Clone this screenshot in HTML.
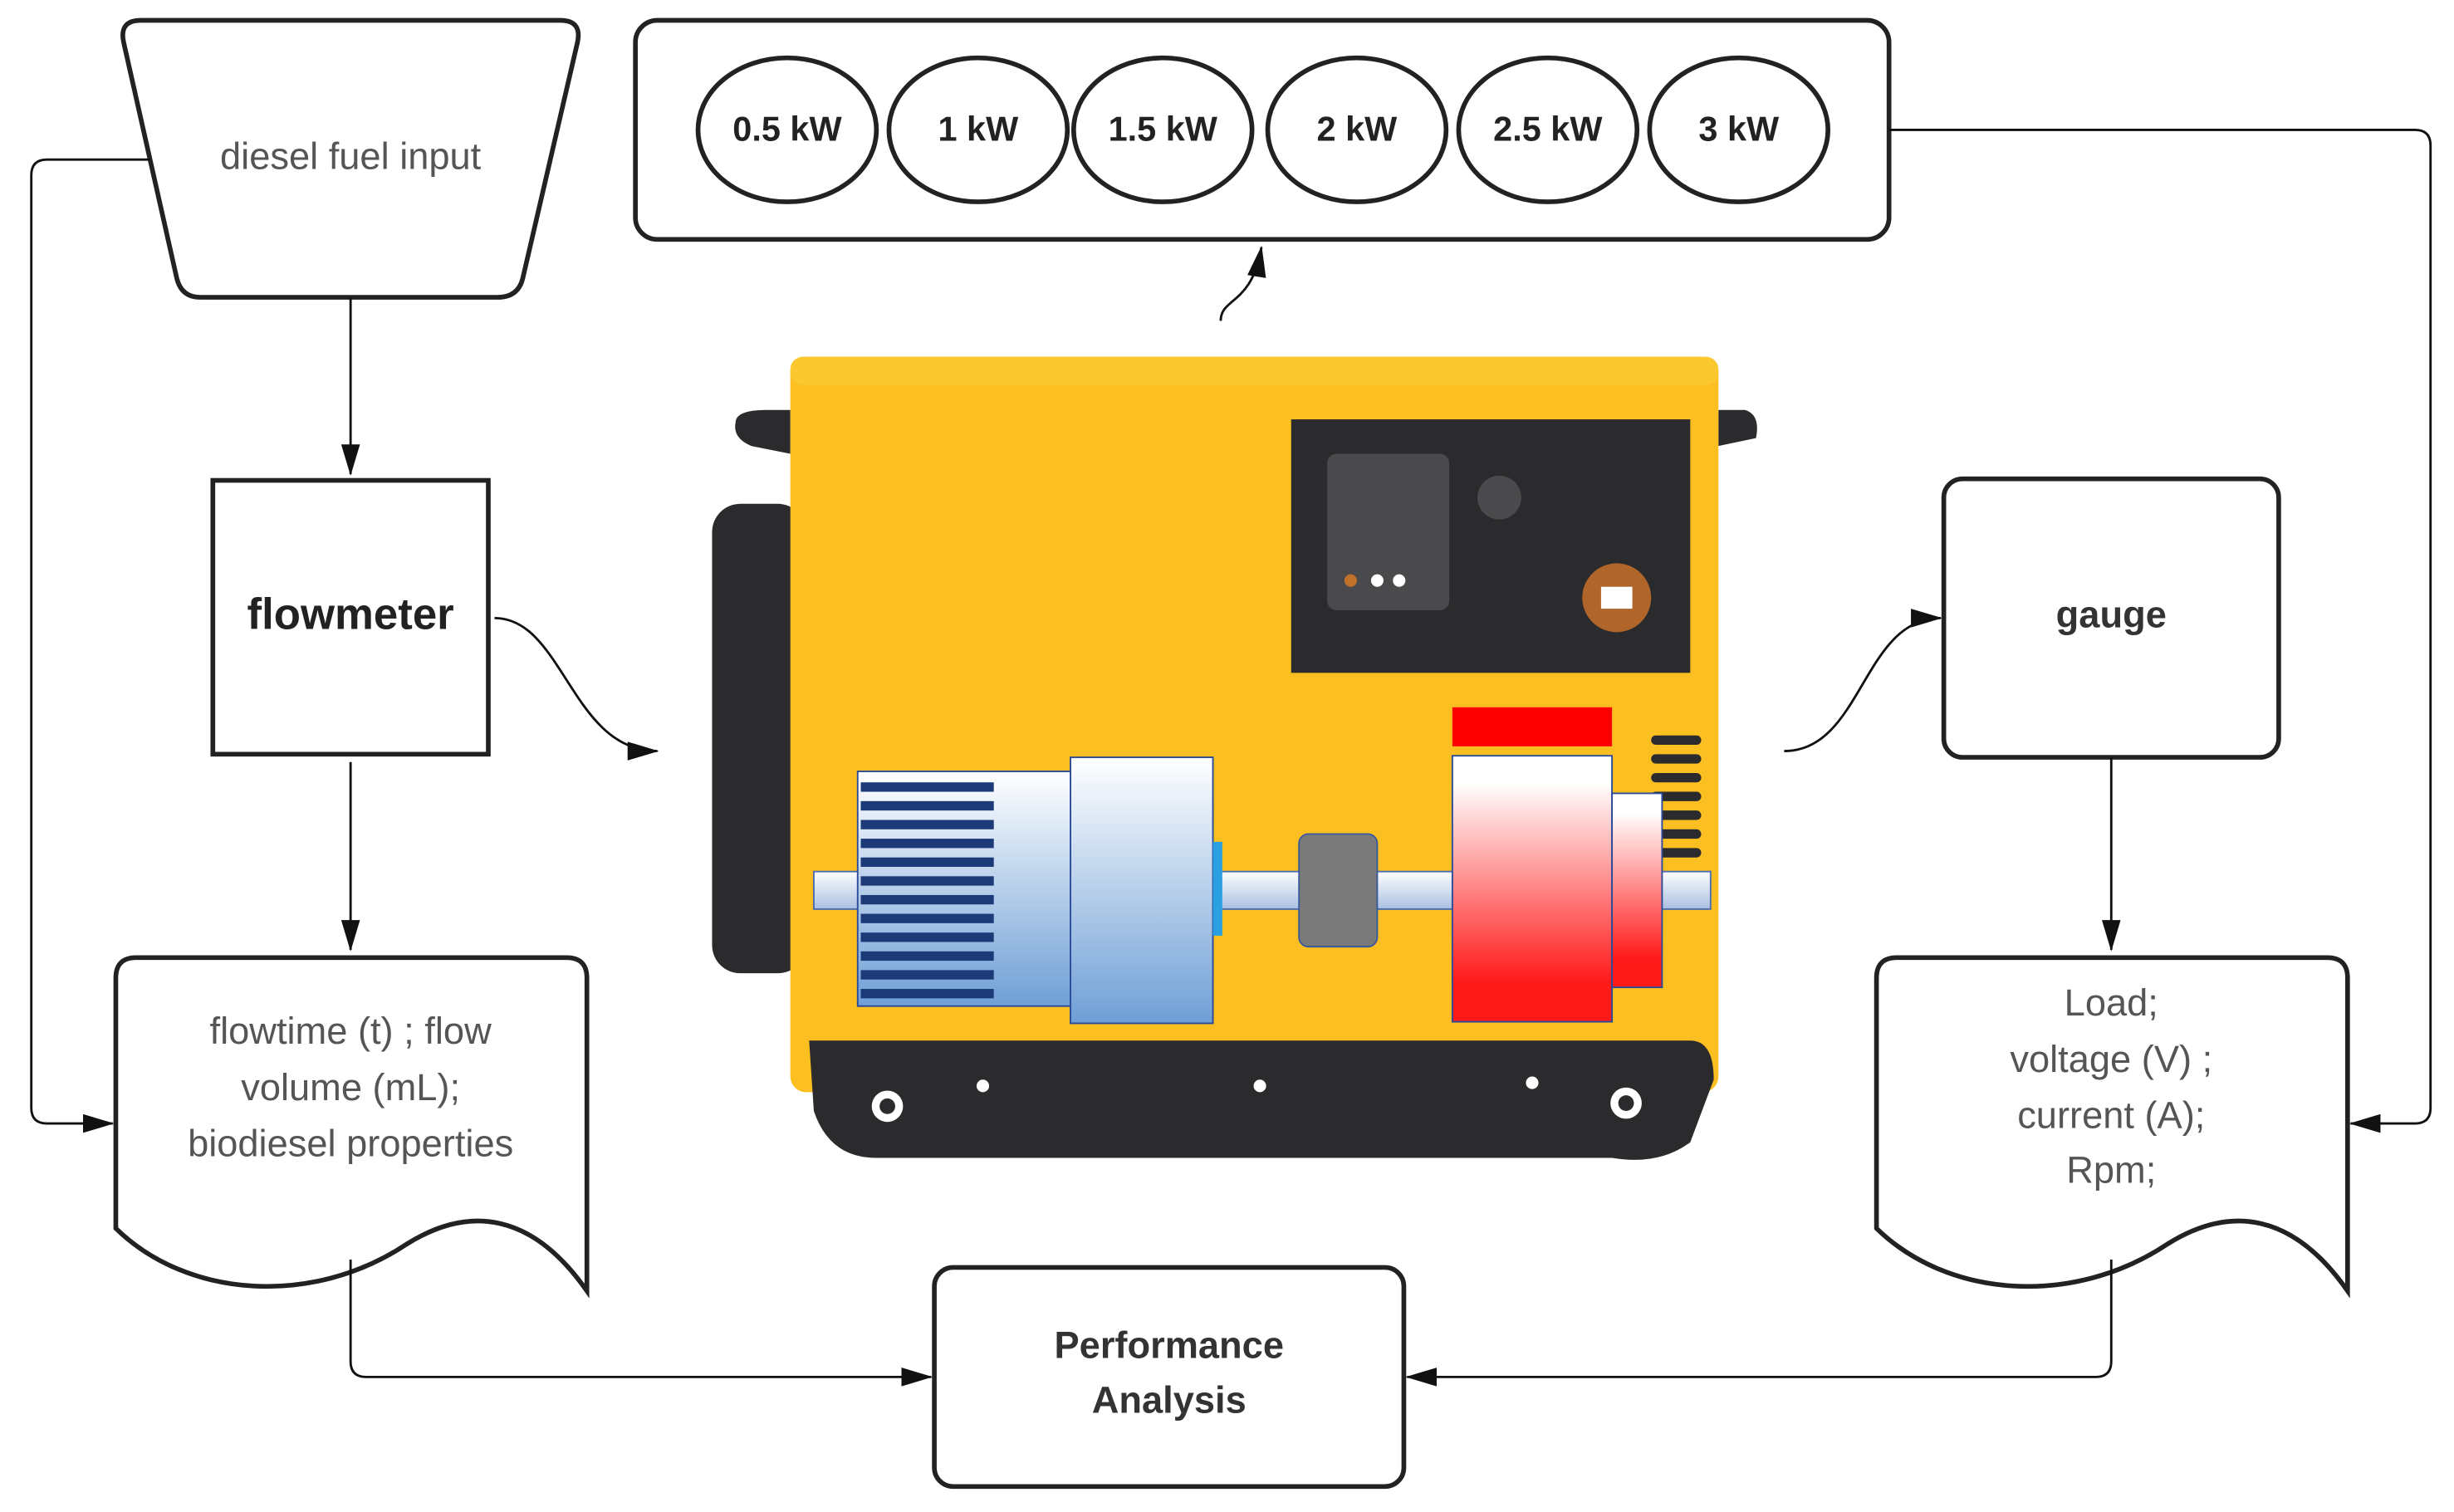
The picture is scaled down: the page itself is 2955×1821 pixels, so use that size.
<!DOCTYPE html>
<html><head><meta charset="utf-8"><style>
html,body{margin:0;padding:0;background:#fff;}
svg{display:block;}
text{font-family:"Liberation Sans",sans-serif;}
</style></head><body>
<svg width="2955" height="1821" viewBox="0 0 1568 966.3" preserveAspectRatio="none" xmlns="http://www.w3.org/2000/svg">
<defs>
<marker id="ah" markerWidth="20" markerHeight="12" refX="19" refY="6" orient="auto" markerUnits="userSpaceOnUse">
<path d="M0,0 L20,6 L0,12 Z" fill="#111"/></marker>
<linearGradient id="blue" x1="0" y1="0" x2="0" y2="1"><stop offset="0" stop-color="#fff"/><stop offset="1" stop-color="#6f9fd6"/></linearGradient>
<linearGradient id="red" x1="0" y1="0" x2="0" y2="1"><stop offset="0.1" stop-color="#fff"/><stop offset="0.85" stop-color="#ff1a1a"/></linearGradient>
<linearGradient id="shaft" x1="0" y1="0" x2="0" y2="1"><stop offset="0" stop-color="#fff"/><stop offset="1" stop-color="#a9bfe0"/></linearGradient>
</defs>
<g fill="none" stroke="#222" stroke-width="3">
<path d="M90,13 L358,13 Q372,13 369,27 L334,178 Q331,190 318,190 L128,190 Q116,190 113,178 L79,27 Q76,13 90,13 Z"/>
<rect x="406" y="13" width="801" height="140" rx="14"/>
<ellipse cx="503" cy="83" rx="57" ry="46"/>
<ellipse cx="625" cy="83" rx="57" ry="46"/>
<ellipse cx="743" cy="83" rx="57" ry="46"/>
<ellipse cx="867" cy="83" rx="57" ry="46"/>
<ellipse cx="989" cy="83" rx="57" ry="46"/>
<ellipse cx="1111" cy="83" rx="57" ry="46"/>
<rect x="136" y="307" width="176" height="175"/>
<rect x="1242" y="306" width="214" height="178" rx="12"/>
<path d="M87,612 L362,612 Q375,612 375,625 L375,825 C340,775 300,770 260,795 C200,835 120,830 74,785 L74,625 Q74,612 87,612 Z"/>
<path d="M1212,612 L1487,612 Q1500,612 1500,625 L1500,825 C1465,775 1425,770 1385,795 C1325,835 1245,830 1199,785 L1199,625 Q1199,612 1212,612 Z"/>
<rect x="597" y="810" width="300" height="140" rx="12"/>
</g>
<g fill="none" stroke="#111" stroke-width="1.5">
<path d="M224,190 L224,303" marker-end="url(#ah)"/>
<path d="M224,487 L224,607" marker-end="url(#ah)"/>
<path d="M96,102 L30,102 Q20,102 20,112 L20,708 Q20,718 30,718 L72,718" marker-end="url(#ah)"/>
<path d="M316,395 C360,395 365,480 420,480" marker-end="url(#ah)"/>
<path d="M780,205 C780,190 800,195 806,158" marker-end="url(#ah)"/>
<path d="M1140,480 C1190,480 1190,395 1240,395" marker-end="url(#ah)"/>
<path d="M1349,484 L1349,607" marker-end="url(#ah)"/>
<path d="M1207,83 L1543,83 Q1553,83 1553,93 L1553,708 Q1553,718 1543,718 L1502,718" marker-end="url(#ah)"/>
<path d="M224,805 L224,870 Q224,880 234,880 L595,880" marker-end="url(#ah)"/>
<path d="M1349,805 L1349,870 Q1349,880 1339,880 L899,880" marker-end="url(#ah)"/>
</g>
<g>
<path d="M470,270 Q470,262 490,262 L505,262 L505,290 L480,285 Q468,280 470,270 Z" fill="#2b2b2d"/>
<path d="M1098,262 L1115,262 Q1125,265 1122,280 L1098,285 Z" fill="#2b2b2d"/>
<rect x="455" y="322" width="60" height="300" rx="18" fill="#2b2b2d"/>
<rect x="505" y="228" width="593" height="470" rx="10" fill="#fbbf22"/>
<rect x="505" y="228" width="593" height="18" rx="8" fill="#fcc830"/>
<path d="M517,665 L1080,665 Q1095,665 1095,690 L1080,730 Q1060,745 1030,740 L560,740 Q530,740 520,710 Z" fill="#2b2b2d"/>
<circle cx="567" cy="707" r="10" fill="#fff"/><circle cx="567" cy="707" r="5" fill="#2b2b2d"/>
<circle cx="1039" cy="705" r="10" fill="#fff"/><circle cx="1039" cy="705" r="5" fill="#2b2b2d"/>
<circle cx="628" cy="694" r="4" fill="#fff"/><circle cx="805" cy="694" r="4" fill="#fff"/><circle cx="979" cy="692" r="4" fill="#fff"/>
<rect x="825" y="268" width="255" height="162" fill="#2b2b2d"/>
<rect x="848" y="290" width="78" height="100" rx="6" fill="#4a4a4c"/>
<circle cx="880" cy="371" r="4" fill="#fff"/><circle cx="894" cy="371" r="4" fill="#fff"/><circle cx="863" cy="371" r="4" fill="#c0722a"/>
<circle cx="1033" cy="382" r="22" fill="#b0652a"/><rect x="1023" y="375" width="20" height="14" fill="#fff"/>
<circle cx="958" cy="318" r="14" fill="#4a4a4c"/>
<rect x="928" y="452" width="102" height="25" fill="#f00"/>
<g fill="#2b2b2d"><rect x="1055" y="470" width="32" height="6" rx="3"/><rect x="1055" y="482" width="32" height="6" rx="3"/><rect x="1055" y="494" width="32" height="6" rx="3"/><rect x="1055" y="506" width="32" height="6" rx="3"/><rect x="1055" y="518" width="32" height="6" rx="3"/><rect x="1055" y="530" width="32" height="6" rx="3"/><rect x="1055" y="542" width="32" height="6" rx="3"/></g>
<rect x="520" y="557" width="573" height="24" fill="url(#shaft)" stroke="#4a6db0" stroke-width="1"/>
<rect x="548" y="493" width="137" height="150" fill="url(#blue)" stroke="#2a4a9a" stroke-width="1"/>
<g fill="#1d3a78"><rect x="550" y="500" width="85" height="6"/><rect x="550" y="512" width="85" height="6"/><rect x="550" y="524" width="85" height="6"/><rect x="550" y="536" width="85" height="6"/><rect x="550" y="548" width="85" height="6"/><rect x="550" y="560" width="85" height="6"/><rect x="550" y="572" width="85" height="6"/><rect x="550" y="584" width="85" height="6"/><rect x="550" y="596" width="85" height="6"/><rect x="550" y="608" width="85" height="6"/><rect x="550" y="620" width="85" height="6"/><rect x="550" y="632" width="85" height="6"/></g>
<rect x="684" y="484" width="91" height="170" fill="url(#blue)" stroke="#2a4a9a" stroke-width="1"/>
<rect x="775" y="538" width="6" height="60" fill="#2aa0e0"/>
<rect x="830" y="533" width="50" height="72" rx="6" fill="#7a7a7a" stroke="#3a5a9a" stroke-width="1"/>
<rect x="928" y="483" width="102" height="170" fill="url(#red)" stroke="#2a4a9a" stroke-width="1"/>
<rect x="1030" y="507" width="32" height="124" fill="url(#red)" stroke="#2a4a9a" stroke-width="1"/>
</g>
<g text-anchor="middle">
<text x="224" y="108" font-size="24" fill="#555">diesel fuel input</text>
<g font-size="22" font-weight="bold" fill="#222">
<text x="503" y="90">0.5 kW</text><text x="625" y="90">1 kW</text><text x="743" y="90">1.5 kW</text>
<text x="867" y="90">2 kW</text><text x="989" y="90">2.5 kW</text><text x="1111" y="90">3 kW</text>
</g>
<text x="224" y="402" font-size="28" font-weight="bold" fill="#222">flowmeter</text>
<text x="1349" y="401" font-size="24" font-weight="bold" fill="#333">gauge</text>
<g font-size="24" fill="#555">
<text x="224" y="667">flowtime (t) ; flow</text>
<text x="224" y="703">volume (mL);</text>
<text x="224" y="739">biodiesel properties</text>
<text x="1349" y="649">Load;</text>
<text x="1349" y="685">voltage (V) ;</text>
<text x="1349" y="721">current (A);</text>
<text x="1349" y="756">Rpm;</text>
</g>
<text x="747" y="868" font-size="24" font-weight="bold" fill="#333">Performance</text>
<text x="747" y="903" font-size="24" font-weight="bold" fill="#333">Analysis</text>
</g>
</svg>
</body></html>
